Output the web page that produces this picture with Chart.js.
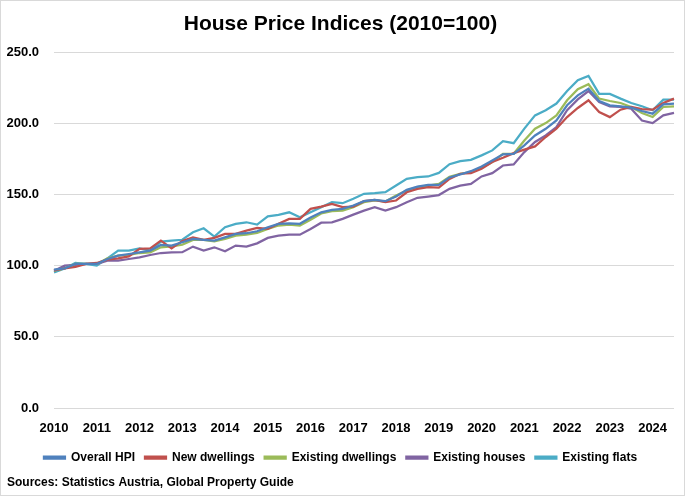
<!DOCTYPE html>
<html>
<head>
<meta charset="utf-8">
<script src="https://cdn.jsdelivr.net/npm/chart.js@4.4.1/dist/chart.umd.min.js"></script>
<style>
  html, body { margin: 0; padding: 0; background: #fff; }
  #wrap { width: 685px; height: 496px; box-sizing: border-box; border: 1px solid #d9d9d9; position: relative; }
</style>
</head>
<body>
<div id="wrap"><canvas id="myChart"></canvas></div>
<script>
// quarterly, 2010Q1 .. 2024Q3
const years = [2010, 2011, 2012, 2013, 2014, 2015, 2016, 2017, 2018, 2019, 2020, 2021, 2022, 2023, 2024];
const quarters = [];
years.forEach(y => ['Q1', 'Q2', 'Q3', 'Q4'].forEach(q => quarters.push(y + q)));
quarters.splice(59);

const overallHpi = [97.2, 98.1, 101.2, 101.2, 101.2, 104.7, 107.0, 108.2, 109.4, 110.6, 114.6, 114.1,
  116.5, 118.8, 118.1, 117.6, 119.9, 122.3, 122.8, 124.2, 127.0, 129.4, 129.8, 129.4,
  133.8, 137.5, 139.2, 139.9, 142.3, 145.3, 146.2, 145.3, 148.6, 153.3, 155.6, 156.8,
  156.7, 162.0, 164.1, 166.4, 169.7, 173.9, 178.2, 178.6, 184.5, 191.5, 196.2, 202.1,
  212.7, 219.7, 224.4, 215.7, 212.7, 212.0, 211.0, 208.7, 206.8, 213.4, 213.9];
const newDwellings = [96.7, 98.1, 99.1, 101.2, 101.9, 104.2, 105.1, 106.5, 111.8, 112.2, 117.6, 112.2,
  117.4, 119.9, 118.1, 119.5, 122.3, 122.3, 124.6, 126.5, 125.8, 129.4, 132.9, 132.9,
  139.9, 141.5, 143.4, 141.1, 141.5, 145.3, 146.2, 144.6, 145.8, 151.6, 154.0, 155.2,
  154.8, 161.0, 164.6, 165.0, 168.1, 172.8, 175.8, 179.1, 181.5, 183.8, 190.4, 196.2,
  204.4, 210.8, 216.2, 208.0, 204.4, 209.6, 211.5, 210.0, 209.6, 214.3, 217.4];
const existingDwellings = [96.5, 98.1, 101.2, 101.2, 101.2, 105.1, 107.0, 107.5, 108.9, 109.4, 112.9, 113.6,
  114.7, 118.1, 118.1, 117.1, 118.8, 121.1, 121.8, 123.0, 125.8, 128.2, 128.9, 128.2,
  132.3, 136.7, 138.3, 138.7, 141.1, 144.6, 145.8, 145.1, 149.3, 152.8, 155.2, 156.3,
  157.5, 162.4, 164.6, 165.7, 168.8, 172.8, 178.6, 178.6, 188.0, 196.2, 200.2, 205.6,
  216.2, 224.0, 227.5, 217.4, 215.7, 214.3, 211.5, 207.3, 204.5, 211.5, 212.0];
const existingHouses = [96.5, 100.0, 100.5, 101.2, 101.2, 103.5, 103.5, 104.7, 105.9, 107.5, 108.9, 109.4,
  109.5, 113.4, 110.6, 112.9, 110.1, 114.1, 113.4, 115.7, 119.5, 121.1, 121.8, 121.8,
  125.8, 130.2, 130.5, 132.9, 135.9, 138.7, 141.1, 138.7, 141.1, 144.6, 147.7, 148.6,
  149.6, 154.0, 156.3, 157.5, 162.7, 165.0, 170.4, 171.1, 179.8, 186.9, 191.5, 197.4,
  209.2, 216.8, 222.7, 215.0, 212.0, 211.5, 210.3, 202.0, 200.2, 205.6, 207.3];
const existingFlats = [95.3, 98.1, 101.9, 101.2, 100.0, 105.1, 110.6, 110.6, 112.2, 110.6, 116.9, 117.6,
  118.2, 123.5, 126.3, 120.4, 127.0, 129.4, 130.5, 128.9, 134.7, 135.7, 137.5, 134.0,
  137.5, 141.1, 144.6, 143.9, 147.0, 150.5, 150.9, 151.6, 156.3, 161.0, 162.2, 162.7,
  165.2, 171.3, 173.5, 174.4, 177.5, 181.0, 187.5, 186.1, 196.3, 205.6, 209.2, 213.9,
  222.7, 230.3, 233.3, 220.7, 220.7, 217.4, 214.3, 212.0, 209.2, 216.7, 216.7];

const seriesNames = ['Overall HPI', 'New dwellings', 'Existing dwellings', 'Existing houses', 'Existing flats'];
const seriesColors = ['#4F81BD', '#C0504D', '#9BBB59', '#8064A2', '#4BACC6'];
const seriesValues = [overallHpi, newDwellings, existingDwellings, existingHouses, existingFlats];

Chart.defaults.font.family = "'Liberation Sans', Arial, sans-serif";
Chart.defaults.color = '#000';

const datasets = seriesNames.map((name, i) => ({
    label: name,
    data: seriesValues[i],
    borderColor: seriesColors[i],
    backgroundColor: seriesColors[i],
    borderWidth: 2.25,
    pointRadius: 0,
    tension: 0,
}));

const ctx = document.getElementById('myChart');
new Chart(ctx, {
    type: 'line',
    data: { labels: quarters, datasets: datasets },
    options: {
        responsive: true,
        maintainAspectRatio: false,
        animation: false,
        layout: { padding: { left: 6, right: 10, top: 4, bottom: 5 } },
        plugins: {
            title: {
                display: true,
                text: 'House Price Indices (2010=100)',
                font: { size: 21, weight: 'bold' },
                padding: { top: 7, bottom: 15 },
            },
            subtitle: {
                display: true,
                position: 'bottom',
                align: 'start',
                text: 'Sources: Statistics Austria, Global Property Guide',
                font: { size: 12, weight: 'bold' },
                padding: { top: 2, bottom: 0 },
            },
            legend: {
                position: 'bottom',
                labels: {
                    boxWidth: 21,
                    boxHeight: 2,
                    padding: 10,
                    font: { size: 12, weight: 'bold' },
                },
            },
            tooltip: { enabled: false },
        },
        scales: {
            x: {
                grid: { display: false },
                border: { display: false },
                ticks: {
                    autoSkip: false,
                    maxRotation: 0,
                    padding: 5,
                    font: { size: 13, weight: 'bold' },
                    callback: function (val, idx) {
                        return idx % 4 === 0 ? quarters[idx].slice(0, 4) : '';
                    },
                },
            },
            y: {
                min: 0,
                max: 250,
                afterFit: (s) => { s.width = 47; },
                grid: { color: '#d9d9d9', lineWidth: 1, drawTicks: false },
                border: { display: false },
                ticks: {
                    stepSize: 50,
                    padding: 15,
                    font: { size: 13, weight: 'bold' },
                    callback: (v) => v.toFixed(1),
                },
            },
        },
    },
});
</script>
</body>
</html>
